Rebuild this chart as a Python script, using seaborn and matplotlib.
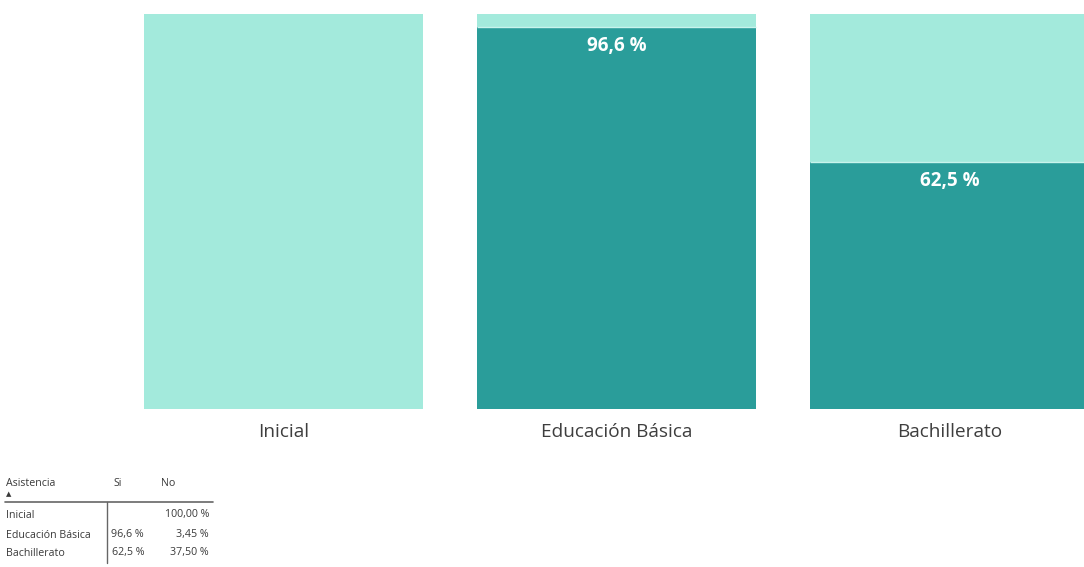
import matplotlib
matplotlib.use("Agg")
import matplotlib.pyplot as plt
import seaborn as sns
import pandas as pd

categories = ["Inicial", "Educación Básica", "Bachillerato"]
si_values = [0.0, 96.6, 62.5]
no_values = [100.0, 3.45, 37.5]
si_labels = ["", "96,6 %", "62,5 %"]
table_si = ["", "96,6 %", "62,5 %"]
table_no = ["100,00 %", "3,45 %", "37,50 %"]

sns.set_theme(style="white")
plt.rcParams['font.family'] = ['Open Sans', 'DejaVu Sans']

LIGHT = "#A3EADC"
DARK = "#2A9D9A"

df = pd.DataFrame({
    "cat": categories,
    "total": [min(100.0, s + n) for s, n in zip(si_values, no_values)],
    "si": si_values,
})

W, H = 1084, 567
fig = plt.figure(figsize=(W / 100, H / 100), dpi=100)
ax = fig.add_axes([0, (H - 409) / H, 1, (409 - 14) / H])

sns.barplot(data=df, x="cat", y="total", color=LIGHT, width=0.835,
            saturation=1, ax=ax, order=categories, edgecolor="none")
sns.barplot(data=df, x="cat", y="si", color=DARK, width=0.835,
            saturation=1, ax=ax, order=categories, edgecolor="none")
# thin light separator at the top of each dark segment
for i, v in enumerate(si_values):
    if 0 < v < 100:
        ax.hlines(v, i - 0.4175, i + 0.4175, color="#C8F4EC", lw=1.0)

for i, (v, lab) in enumerate(zip(si_values, si_labels)):
    if v > 0:
        ax.annotate(lab, xy=(i, v), xytext=(0, -19), textcoords="offset pixels",
                    ha="center", va="center", color="white", fontsize=13.5,
                    fontweight="bold")

ax.set_xlim(-283.5 / 333, (1084 - 283.5) / 333)
ax.set_ylim(0, 100)
ax.set_xlabel("")
ax.set_ylabel("")
ax.set_yticks([])
ax.tick_params(axis="x", length=0, pad=10, labelsize=13.7, labelcolor="#3E3E3E")
for s in ax.spines.values():
    s.set_visible(False)

# small table at bottom-left
def fy(y):
    return 1 - y / H

def fx(x):
    return x / W

tc = "#3A3A3A"
fs = 7.7
fig.text(fx(6), fy(483), "Asistencia", fontsize=fs, color=tc, va="center", ha="left")
fig.text(fx(113), fy(483), "Si", fontsize=fs, color=tc, va="center", ha="left")
fig.text(fx(161), fy(483), "No", fontsize=fs, color=tc, va="center", ha="left")
fig.text(fx(6), fy(494), "▲", fontsize=5, color=tc, va="center", ha="left",
         family=["DejaVu Sans"])
fig.add_artist(plt.Line2D([fx(5), fx(213)], [fy(502), fy(502)], color="#666666", lw=1.2))
fig.add_artist(plt.Line2D([fx(107), fx(107)], [fy(502), fy(563)], color="#666666", lw=1.0))
row_y = [515, 535, 553]
for y, c, s, n in zip(row_y, categories, table_si, table_no):
    fig.text(fx(6), fy(y), c, fontsize=fs, color=tc, va="center", ha="left")
    if s:
        fig.text(fx(144), fy(y), s, fontsize=fs, color=tc, va="center", ha="right")
    fig.text(fx(209), fy(y), n, fontsize=fs, color=tc, va="center", ha="right")

fig.savefig("out.png", dpi=100, facecolor="white")
